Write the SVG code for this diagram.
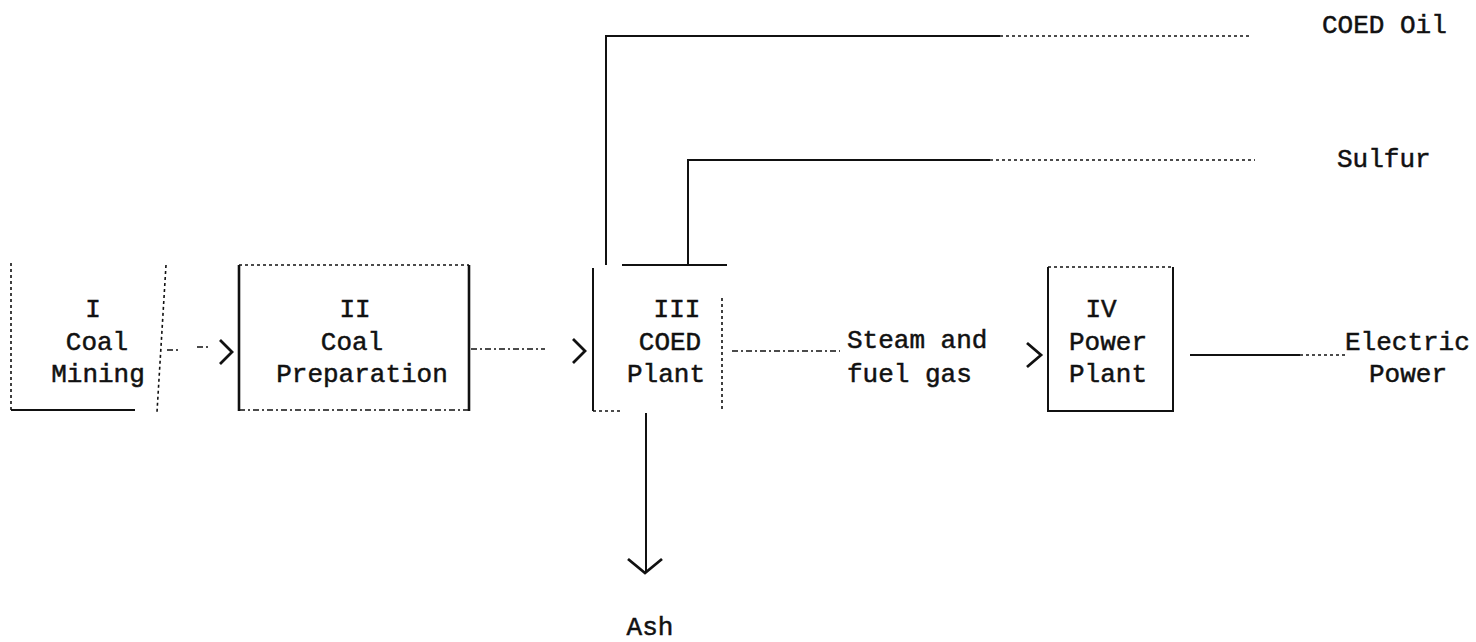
<svg xmlns="http://www.w3.org/2000/svg" width="1476" height="642" viewBox="0 0 1476 642">
<style>
text{font-family:"Liberation Mono","DejaVu Sans Mono",monospace;font-size:26px;fill:#111;stroke:#111;stroke-width:0.5;}
.c{text-anchor:middle;}
.ln{fill:none;stroke:#111;stroke-width:2;}
.dl{fill:none;stroke:#111;stroke-width:1.6;stroke-dasharray:6 3 2 3;}
.dot{fill:none;stroke:#111;stroke-width:1.6;stroke-dasharray:3 3;}
.thk{fill:none;stroke:#111;stroke-width:2.6;}
.chev{fill:none;stroke:#111;stroke-width:2.8;stroke-linejoin:miter;}
</style>
<rect width="1476" height="642" fill="#fff"/>
<g id="node-I">
<path class="dot" d="M11,263 V410"/>
<path class="ln" d="M11,410 H135"/>
<path class="dot" d="M166,265 L157,412"/>
<text class="c" x="93" y="317">I</text>
<text class="c" x="97" y="350">Coal</text>
<text class="c" x="98" y="382">Mining</text>
</g>
<g id="node-II">
<path class="thk" d="M239,265 V411"/>
<path class="thk" d="M469,265 V411"/>
<path class="dot" d="M239,265 H469"/>
<path class="dl" d="M239,410 H469"/>
<text class="c" x="355" y="317">II</text>
<text class="c" x="352" y="350">Coal</text>
<text class="c" x="362" y="382">Preparation</text>
</g>
<g id="node-III">
<path class="ln" d="M593,268 V411"/>
<path class="dot" d="M722,298 V410"/>
<path class="dot" d="M593,411 H620"/>
<path class="ln" d="M622,265 H727"/>
<text class="c" x="677" y="317">III</text>
<text class="c" x="670" y="350">COED</text>
<text class="c" x="666" y="382">Plant</text>
</g>
<g id="node-IV">
<path class="ln" d="M1048,267 V411 H1173 V267"/>
<path class="dot" d="M1048,267 H1173"/>
<text class="c" x="1101" y="317">IV</text>
<text class="c" x="1108" y="350">Power</text>
<text class="c" x="1108" y="382">Plant</text>
</g>
<g id="connectors">
<path class="dl" d="M167,350 H178 M197,347 H210"/>
<path class="chev" d="M220,340 L232,352 L220,364"/>
<path class="dl" d="M471,349 H545"/>
<path class="chev" d="M573,339 L585,351 L573,363"/>
<path class="dl" d="M732,351 H840"/>
<path class="chev" d="M1027,343 L1041,355 L1027,367"/>
<path class="ln" d="M1190,355 H1300"/>
<path class="dot" d="M1300,355 H1345"/>
<path class="ln" d="M606,265 V36 H1000"/>
<path class="dot" d="M1000,36 H1250"/>
<path class="ln" d="M688,265 V160 H990"/>
<path class="dot" d="M990,160 H1255"/>
<path class="ln" d="M646,413 V573"/>
<path class="chev" d="M628,559 L645,573 L662,559"/>
</g>
<g id="labels">
<text x="1322" y="33">COED Oil</text>
<text x="1337" y="167">Sulfur</text>
<text x="847" y="348">Steam and</text>
<text x="847" y="382">fuel gas</text>
<text x="1345" y="350">Electric</text>
<text x="1369" y="382">Power</text>
<text class="c" x="650" y="635">Ash</text>
</g>
</svg>
